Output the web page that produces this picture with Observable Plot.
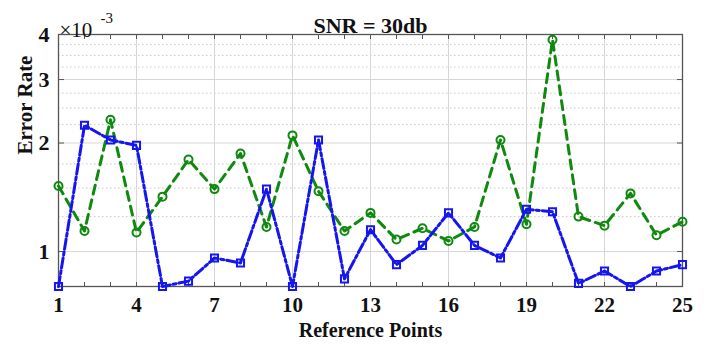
<!DOCTYPE html>
<html>
<head>
<meta charset="utf-8">
<script src="https://cdn.jsdelivr.net/npm/d3@7"></script>
<script src="https://cdn.jsdelivr.net/npm/@observablehq/plot@0.6"></script>
<style>
  html, body { margin: 0; padding: 0; background: #fff; }
</style>
</head>
<body>
<div id="chart"></div>
<script>
// Reference point indices
const points = [1,2,3,4,5,6,7,8,9,10,11,12,13,14,15,16,17,18,19,20,21,22,23,24,25];
// Error rate (x 10^-3), green dashed series with circles
const greenSeries = [1.52,1.14,2.32,1.13,1.42,1.80,1.49,1.87,1.17,2.10,1.47,1.14,1.28,1.08,1.16,1.07,1.17,2.04,1.19,3.87,1.25,1.18,1.45,1.11,1.21];
// Error rate (x 10^-3), blue dash-dot series with squares
const blueSeries = [0.80,2.24,2.04,1.97,0.80,0.828,0.96,0.93,1.49,0.80,2.04,0.84,1.15,0.92,1.04,1.28,1.04,0.96,1.31,1.29,0.816,0.883,0.80,0.883,0.92];
// Tick values
const yMajorTicks = [1,2,3,4];
const yMinorTicks = [1.25,1.5,1.75,2.25,2.5,2.75,3.25,3.5,3.75];
const xMajorTicks = [1,4,7,10,13,16,19,22,25];
const xGridTicks = [4,7,10,13,16,19,22];

const titleText = "SNR = 30db";
const xLabel = "Reference Points";
const yLabel = "Error Rate";

const green = "#0f8a0f";
const blue = "#1515f0";

const greenData = points.map((p, i) => ({x: p, y: greenSeries[i]}));
const blueData = points.map((p, i) => ({x: p, y: blueSeries[i]}));

const font = "'Liberation Serif', 'Times New Roman', serif";

const chart = Plot.plot({
  width: 707,
  height: 345,
  marginLeft: 58,
  marginRight: 25,
  marginTop: 34,
  marginBottom: 59,
  style: {fontFamily: font, fontWeight: "bold", fontSize: "21px", background: "#fff", color: "#111"},
  x: {domain: [1, 25]},
  y: {type: "log", domain: [0.8, 4]},
  marks: [
    Plot.ruleY(yMinorTicks, {stroke: "#c8c8c8", strokeWidth: 1, strokeDasharray: "1.5,2.5"}),
    Plot.ruleY(yMajorTicks, {stroke: "#d6d6d6", strokeWidth: 1}),
    Plot.ruleX(xGridTicks, {stroke: "#d6d6d6", strokeWidth: 1}),
    Plot.frame({stroke: "#555", strokeWidth: 1.3}),
    Plot.axisY(yMajorTicks, {anchor: "left", tickSize: 0, tickPadding: 9, tickFormat: d => String(d), fontSize: 22, label: null}),
    Plot.axisY(yMajorTicks, {anchor: "left", tickSize: -6, tickFormat: () => "", label: null, stroke: "#555"}),
    Plot.axisY(yMajorTicks, {anchor: "right", tickSize: -6, tickFormat: () => "", label: null, stroke: "#555"}),
    Plot.axisX(xMajorTicks, {anchor: "bottom", tickSize: 0, tickPadding: 11, tickFormat: d => String(d), fontSize: 21, label: null}),
    Plot.axisX(points, {anchor: "bottom", tickSize: -4, tickFormat: () => "", label: null, stroke: "#555"}),
    Plot.axisX(points, {anchor: "top", tickSize: -4, tickFormat: () => "", label: null, stroke: "#555"}),
    Plot.line(greenData, {x: "x", y: "y", stroke: green, strokeWidth: 3, strokeDasharray: "9,6"}),
    Plot.dot(greenData, {x: "x", y: "y", symbol: "circle", r: 4, stroke: green, strokeWidth: 2, fill: "none"}),
    Plot.line(blueData, {x: "x", y: "y", stroke: blue, strokeWidth: 3, strokeDasharray: "10,3,3,3"}),
    Plot.dot(blueData, {x: "x", y: "y", symbol: "square", r: 4, stroke: blue, strokeWidth: 2, fill: "none"}),
    Plot.text([titleText], {text: d => d, frameAnchor: "top", dy: -17.5, fontSize: 22, fontWeight: "bold"}),
    Plot.text([xLabel], {text: d => d, frameAnchor: "bottom", dy: 50, fontSize: 20, fontWeight: "bold"}),
    Plot.text([yLabel], {text: d => d, frameAnchor: "left", dx: -33, dy: -6, rotate: -90, fontSize: 21, fontWeight: "bold"}),
    Plot.text(["\u00d710"], {text: d => d, frameAnchor: "top-left", textAnchor: "start", dx: 1, dy: -12.5, fontSize: 21, fontWeight: "normal"}),
    Plot.text(["-3"], {text: d => d, frameAnchor: "top-left", textAnchor: "start", dx: 42, dy: -22, fontSize: 15, fontWeight: "normal"})
  ]
});
document.getElementById("chart").appendChild(chart);
</script>
</body>
</html>
